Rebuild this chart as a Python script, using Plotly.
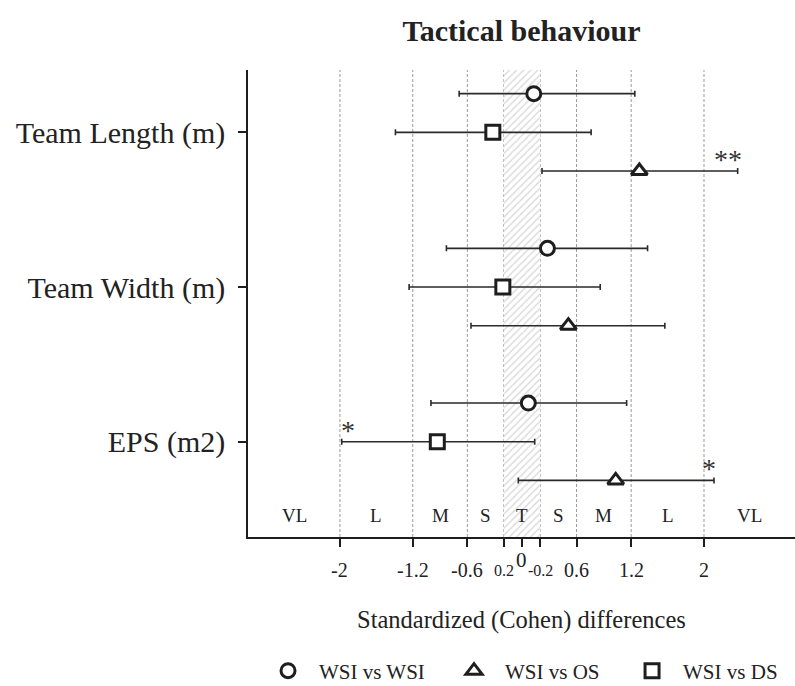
import plotly.graph_objects as go

# ---------------- data ----------------
categories = ["Team Length (m)", "Team Width (m)", "EPS (m2)"]

series_names = ["WSI vs WSI", "WSI vs OS", "WSI vs DS"]
series_symbols = ["circle", "triangle-up", "square"]

wsi_wsi_d = [0.13, 0.28, 0.07]
wsi_wsi_lo = [-0.69, -0.83, -1.00]
wsi_wsi_hi = [1.24, 1.38, 1.15]

wsi_os_d = [1.29, 0.51, 1.03]
wsi_os_lo = [0.22, -0.56, -0.04]
wsi_os_hi = [2.37, 1.57, 2.11]

wsi_ds_d = [-0.32, -0.21, -0.93]
wsi_ds_lo = [-1.39, -1.24, -1.98]
wsi_ds_hi = [0.76, 0.86, 0.14]

tick_vals = [-2, -1.2, -0.6, -0.2, 0, 0.2, 0.6, 1.2, 2]
tick_text = ["-2", "-1.2", "-0.6", "0.2", "0", "-0.2", "0.6", "1.2", "2"]
grid_vals = [-2, -1.2, -0.6, -0.2, 0.2, 0.6, 1.2, 2]

magnitude_labels = ["VL", "L", "M", "S", "T", "S", "M", "L", "VL"]
magnitude_centers = [-2.5, -1.6, -0.9, -0.4, 0, 0.4, 0.9, 1.6, 2.5]

trivial_band = [-0.2, 0.2]

# significance marks: text, x value, category index, series index
sig_text = ["**", "*", "*"]
sig_x = [2.26, -1.91, 2.05]
sig_cat = [0, 2, 2]
sig_series = [1, 2, 1]

# ---------------- layout constants ----------------
FONT = "Liberation Serif"
offsets = [-0.25, 0.25, 0.0]      # circle above, triangle below, square centre
Y_RANGE = [2.616, -0.403]
X_RANGE = [-3.01, 3.0]
INK = "#1e1e1e"
legend_x = [0.0165, 0.3565, 0.682]
legend_ids = ["legend", "legend2", "legend3"]

series_d = [wsi_wsi_d, wsi_os_d, wsi_ds_d]
series_lo = [wsi_wsi_lo, wsi_os_lo, wsi_ds_lo]
series_hi = [wsi_wsi_hi, wsi_os_hi, wsi_ds_hi]

fig = go.Figure()

# hatched trivial band
fig.add_trace(go.Scatter(
    x=[trivial_band[0], trivial_band[1], trivial_band[1], trivial_band[0], trivial_band[0]],
    y=[Y_RANGE[0], Y_RANGE[0], Y_RANGE[1], Y_RANGE[1], Y_RANGE[0]],
    mode="lines", fill="toself", line=dict(width=0, color="rgba(0,0,0,0)"),
    fillcolor="white",
    fillpattern=dict(shape="/", fgcolor="#b3b3b3", bgcolor="white", size=5, solidity=0.28),
    hoverinfo="skip", showlegend=False,
))

for s in range(3):
    ys = [i + offsets[s] for i in range(len(categories))]
    d = series_d[s]
    fig.add_trace(go.Scatter(
        x=d, y=ys, mode="markers", name=series_names[s], legend=legend_ids[s],
        marker=dict(symbol=series_symbols[s], size=14,
                    color="white", line=dict(color=INK, width=3)),
        error_x=dict(type="data", symmetric=False,
                     array=[series_hi[s][i] - d[i] for i in range(len(d))],
                     arrayminus=[d[i] - series_lo[s][i] for i in range(len(d))],
                     color="#2a2a2a", thickness=1.6, width=3),
    ))

shapes = []
for g in grid_vals:
    shapes.append(dict(type="line", xref="x", yref="paper", x0=g, x1=g, y0=0, y1=1,
                       line=dict(color="#9a9a9a", width=1, dash="3px,2px"), layer="below"))

annotations = []
for lab, c in zip(magnitude_labels, magnitude_centers):
    annotations.append(dict(x=c, y=0.047, xref="x", yref="paper", text=lab, showarrow=False,
                            font=dict(family=FONT, size=19, color="#222"), yanchor="middle"))

for v, t in zip(tick_vals, tick_text):
    if t == "0":
        size, yy = 21, -0.049
    elif abs(v) == 0.2:
        size, yy = 16, -0.0707
    else:
        size, yy = 20, -0.0707
    annotations.append(dict(x=v, y=yy, xref="x", yref="paper", text=t, showarrow=False,
                            font=dict(family=FONT, size=size, color="#222"), yanchor="middle"))

for t, x, c, s in zip(sig_text, sig_x, sig_cat, sig_series):
    annotations.append(dict(x=x, y=c + offsets[s] - 0.075, xref="x", yref="y", text=t,
                            showarrow=False, font=dict(family=FONT, size=28, color="#333"),
                            yanchor="middle"))

annotations.append(dict(x=0.5, y=-0.178, xref="paper", yref="paper",
                        text="Standardized (Cohen) differences", showarrow=False,
                        font=dict(family=FONT, size=24.5, color="#222"), yanchor="middle"))

legend_style = dict(orientation="h", y=-0.287, yanchor="middle", xanchor="left",
                    font=dict(family=FONT, size=21, color="#222"), itemwidth=52,
                    bgcolor="rgba(0,0,0,0)", borderwidth=0)

fig.update_layout(
    width=795, height=686,
    margin=dict(l=248, r=0, t=70, b=149, autoexpand=False),
    paper_bgcolor="white", plot_bgcolor="white",
    title=dict(text="<b>Tactical behaviour</b>", x=0.5, xref="paper", y=1 - 30 / 686,
               yanchor="middle", font=dict(family=FONT, size=30, color="#222")),
    xaxis=dict(range=X_RANGE, tickvals=tick_vals, showticklabels=False, ticks="outside",
               ticklen=8, tickcolor=INK, tickwidth=1.5, showgrid=False, zeroline=False,
               showline=True, linecolor=INK, linewidth=1.5, fixedrange=True),
    yaxis=dict(range=Y_RANGE, tickvals=[0, 1, 2], ticktext=categories, ticks="outside",
               ticklen=8, tickcolor=INK, tickwidth=1.5, showgrid=False, zeroline=False,
               showline=True, linecolor=INK, linewidth=1.5, ticklabelstandoff=7,
               tickfont=dict(family=FONT, size=30, color="#222")),
    showlegend=True,
    legend=dict(x=legend_x[0], **legend_style),
    legend2=dict(x=legend_x[1], **legend_style),
    legend3=dict(x=legend_x[2], **legend_style),
    shapes=shapes, annotations=annotations,
)

fig.write_html("out.html", config={"displayModeBar": False},
               post_script="document.body.style.margin='0';")
